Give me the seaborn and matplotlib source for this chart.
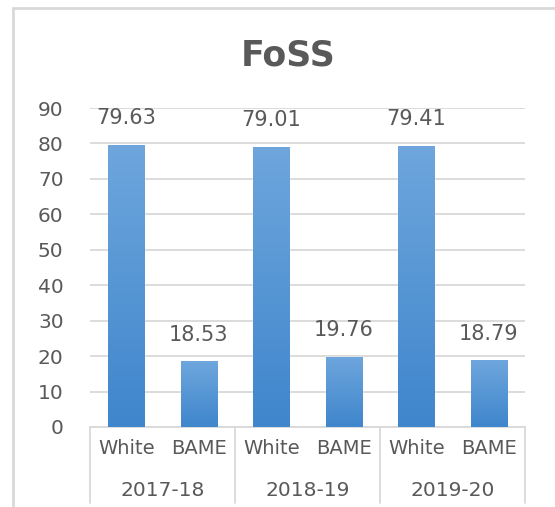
import matplotlib
matplotlib.use("Agg")
import matplotlib.pyplot as plt
import numpy as np
import pandas as pd
import seaborn as sns
from matplotlib.colors import LinearSegmentedColormap
from matplotlib.lines import Line2D

years = ["2017-18", "2018-19", "2019-20"]
groups = ["White", "BAME"]
white_vals = [79.63, 79.01, 79.41]
bame_vals = [18.53, 19.76, 18.79]

sns.set_style("white")
plt.rcParams["font.family"] = ["DejaVu Sans"]
TEXT = "#595959"
GRID = "#d9d9d9"

rows = []
for yr, w, b in zip(years, white_vals, bame_vals):
    rows.append({"slot": f"{yr} White", "year": yr, "group": "White", "value": w})
    rows.append({"slot": f"{yr} BAME", "year": yr, "group": "BAME", "value": b})
df = pd.DataFrame(rows)

fig = plt.figure(figsize=(5.55, 5.07), dpi=100)
ax = fig.add_axes([90 / 555, 1 - 427 / 507, 435 / 555, 319 / 507])

sns.barplot(data=df, x="slot", y="value", color="#5b9bd5", width=0.5,
            saturation=1, ax=ax, zorder=3)

# Excel-style vertical gradient on each bar
grad = LinearSegmentedColormap.from_list("bar", ["#3f86cc", "#6ea6dd"])
for p in ax.patches:
    x0, y0 = p.get_x(), p.get_y()
    w, h = p.get_width(), p.get_height()
    img = ax.imshow(np.linspace(0, 1, 100).reshape(-1, 1), cmap=grad, origin="lower",
                    extent=[x0, x0 + w, y0, y0 + h], aspect="auto", zorder=3)
    img.set_clip_path(p)

ax.bar_label(ax.containers[0], fmt="%.2f", padding=12, fontsize=15, color=TEXT)

ax.set_xlim(-0.5, len(df) - 0.5)
ax.set_ylim(0, 90)
ax.set_yticks(range(0, 91, 10))
ax.yaxis.grid(True, color=GRID, linewidth=1.3, zorder=0)
ax.set_axisbelow(True)
ax.tick_params(axis="y", length=0, pad=19, labelsize=14.5, labelcolor=TEXT)
ax.set_xticks(range(len(df)))
ax.set_xticklabels(df["group"], fontsize=14, color=TEXT)
ax.tick_params(axis="x", length=0, pad=9)
ax.set_xlabel("")
ax.set_ylabel("")
for s in ["top", "right", "left"]:
    ax.spines[s].set_visible(False)
ax.spines["bottom"].set_color(GRID)
ax.spines["bottom"].set_linewidth(1.3)

# second level of the category axis: year labels and group separators
trans = ax.get_xaxis_transform()
for i, yr in enumerate(years):
    ax.text(2 * i + 0.5, -0.2, yr, transform=trans, ha="center", va="center",
            fontsize=14.5, color=TEXT)
for b in np.arange(-0.5, len(df), 2):
    ax.plot([b, b], [0, -0.238], transform=trans, color=GRID, lw=1.3, clip_on=False)

fig.text(288 / 555, 1 - 55 / 507, "FoSS", ha="center", va="center",
         fontsize=25, fontweight="bold", color=TEXT)

# chart area frame (cropped on right and bottom)
fig.add_artist(Line2D([13 / 555, 13 / 555], [0, 1 - 8 / 507], color=GRID, lw=2))
fig.add_artist(Line2D([13 / 555, 1], [1 - 8 / 507, 1 - 8 / 507], color=GRID, lw=2))

fig.savefig("out.png", dpi=100)
